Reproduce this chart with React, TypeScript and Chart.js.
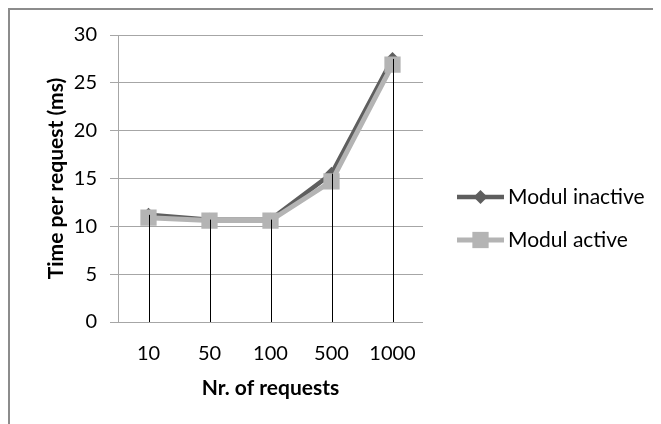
import React, { useEffect, useRef } from "react";
import { Chart, registerables } from "chart.js";

Chart.register(...registerables);

const categories = ["10", "50", "100", "500", "1000"];
const inactiveValues = [11.2, 10.7, 10.7, 15.5, 27.5];
const activeValues = [10.9, 10.6, 10.6, 14.7, 26.9];
const yTicks = { min: 0, max: 30, step: 5 };

const FONT = "Lato, 'Open Sans', sans-serif";
const INACTIVE_COLOR = "#5e5e5e";
const ACTIVE_COLOR = "#b4b4b4";
const GRID_COLOR = "#a6a6a6";

// Black drop lines from the highest point of each category down to the x axis
const dropLines = {
  id: "dropLines",
  afterDatasetsDraw(chart: any) {
    const { ctx, chartArea, scales } = chart;
    const x = scales.x;
    const y = scales.y;
    ctx.save();
    ctx.strokeStyle = "#000";
    ctx.lineWidth = 1;
    categories.forEach((_, i) => {
      const top = Math.max(
        ...chart.data.datasets.map((ds: any) => ds.data[i] as number)
      );
      const px = Math.round(x.getPixelForValue(i)) + 0.5;
      ctx.beginPath();
      ctx.moveTo(px, y.getPixelForValue(top));
      ctx.lineTo(px, chartArea.bottom);
      ctx.stroke();
    });
    ctx.restore();
  },
};

// Legend to the right: a short line with the series marker, then the label
const lineLegend = {
  id: "lineLegend",
  afterDraw(chart: any) {
    const { ctx, chartArea } = chart;
    const startX = chartArea.right + 34;
    const lineLen = 47;
    const rows = [187, 230];
    ctx.save();
    chart.data.datasets.forEach((ds: any, i: number) => {
      const yy = rows[i];
      ctx.strokeStyle = ds.borderColor;
      ctx.lineWidth = ds.borderWidth;
      ctx.beginPath();
      ctx.moveTo(startX, yy);
      ctx.lineTo(startX + lineLen, yy);
      ctx.stroke();
      ctx.fillStyle = ds.pointBackgroundColor;
      const cx = startX + lineLen / 2;
      ctx.beginPath();
      if (ds.pointStyle === "rectRot") {
        const r = ds.pointRadius;
        ctx.moveTo(cx - r, yy);
        ctx.lineTo(cx, yy - r);
        ctx.lineTo(cx + r, yy);
        ctx.lineTo(cx, yy + r);
        ctx.closePath();
      } else {
        const s = ds.pointRadius * Math.SQRT1_2;
        ctx.rect(cx - s, yy - s, 2 * s, 2 * s);
      }
      ctx.fill();
      ctx.fillStyle = "#000";
      ctx.font = `21px ${FONT}`;
      ctx.textBaseline = "middle";
      ctx.textAlign = "left";
      ctx.fillText(ds.label, startX + lineLen + 4, yy);
    });
    ctx.restore();
  },
};

export default function App() {
  const canvasRef = useRef<HTMLCanvasElement | null>(null);

  useEffect(() => {
    const canvas = canvasRef.current;
    if (!canvas) return;
    const chart = new Chart(canvas, {
      type: "line",
      data: {
        labels: categories,
        datasets: [
          {
            label: "Modul inactive",
            data: inactiveValues,
            borderColor: INACTIVE_COLOR,
            backgroundColor: INACTIVE_COLOR,
            pointBackgroundColor: INACTIVE_COLOR,
            pointBorderColor: INACTIVE_COLOR,
            borderWidth: 4.5,
            pointStyle: "rectRot",
            pointRadius: 7,
            pointBorderWidth: 0,
            order: 1,
          },
          {
            label: "Modul active",
            data: activeValues,
            borderColor: ACTIVE_COLOR,
            backgroundColor: ACTIVE_COLOR,
            pointBackgroundColor: ACTIVE_COLOR,
            pointBorderColor: ACTIVE_COLOR,
            borderWidth: 5,
            pointStyle: "rect",
            pointRadius: 11.5,
            pointBorderWidth: 0,
            order: 0,
          },
        ] as any,
      },
      options: {
        responsive: false,
        animation: false,
        layout: { padding: { left: 28, right: 230, top: 24, bottom: 26 } },
        plugins: {
          legend: { display: false },
          tooltip: { enabled: false },
        },
        scales: {
          x: {
            offset: true,
            grid: { display: false, drawTicks: false },
            border: { display: false },
            ticks: {
              color: "#000",
              font: { family: FONT, size: 20 },
              padding: 20,
              maxRotation: 0,
            },
            title: {
              display: true,
              text: "Nr. of requests",
              color: "#000",
              font: { family: FONT, size: 21, weight: "bold" },
              padding: { top: 0, bottom: 3 },
            },
            afterFit(scale: any) {
              scale.height = 82;
            },
          },
          y: {
            min: yTicks.min,
            max: yTicks.max,
            grid: { color: GRID_COLOR, lineWidth: 1, tickLength: 8 },
            border: { display: true, color: GRID_COLOR, width: 1 },
            ticks: {
              stepSize: yTicks.step,
              color: "#000",
              font: { family: FONT, size: 20 },
              padding: 13,
            },
            title: {
              display: true,
              text: "Time per request (ms)",
              color: "#000",
              font: { family: FONT, size: 21, weight: "bold" },
              padding: { top: 6, bottom: 0 },
            },
            afterFit(scale: any) {
              scale.width = 80;
            },
          },
        },
      },
      plugins: [dropLines, lineLegend],
    });
    return () => chart.destroy();
  }, []);

  return (
    <div
      style={{
        width: 643,
        height: 430,
        border: "2px solid #8c8c8c",
        background: "#fff",
      }}
    >
      <canvas ref={canvasRef} width={643} height={420} style={{ display: "block" }} />
    </div>
  );
}
